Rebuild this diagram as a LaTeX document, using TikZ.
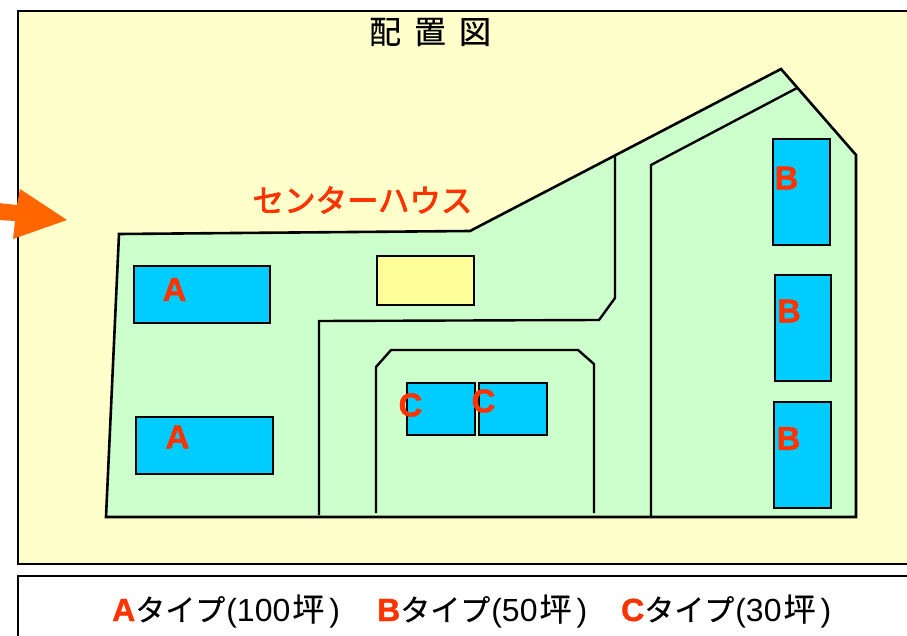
\documentclass[tikz,border=0pt]{standalone}
\usepackage{fontspec}
\setmainfont{Liberation Sans}
\newfontfamily\cjk{Noto Sans CJK JP}
\newfontfamily\cjkt{Noto Sans CJK JP}[FakeBold=0.4]
\newfontfamily\cjkm{Noto Sans CJK JP}[FakeBold=2.6]
\newfontfamily\tagface{Liberation Sans Bold}[FakeBold=1.2]
\definecolor{bgy}{HTML}{FFFFCC}
\definecolor{site}{HTML}{CCFFCC}
\definecolor{bldg}{HTML}{00CCFF}
\definecolor{house}{HTML}{FFFF99}
\definecolor{lab}{HTML}{FF3300}
\definecolor{arr}{HTML}{FF6600}
\newcommand{\legendrow}[2]{\textcolor{lab}{\tagface #1}{\fontsize{30}{32}\selectfont\cjkt タイプ}\kern1pt(#2\kern2pt{\fontsize{32}{34}\selectfont\cjkt 坪}\kern5pt)}
\tikzset{
  x=1pt,y=-1pt,
  line/.style={draw=black,line width=2.6pt,line join=miter},
  road/.style={draw=black,line width=2.4pt,line join=miter},
  bld/.style={draw=black,line width=2.6pt,fill=bldg},
  tag/.style={text=lab,font=\fontsize{33}{35}\selectfont\tagface,inner sep=0pt},
  legend/.style={font=\fontsize{32}{34}\selectfont,inner sep=0pt,anchor=base west}
}
\begin{document}
\begin{tikzpicture}
\useasboundingbox (0,0) rectangle (907,636);
\clip (0,0) rectangle (907,636);
% background panels
\draw[line,fill=bgy] (18,11) rectangle (920,564);
\draw[line,fill=white] (18,576) rectangle (920,650);
% site
\draw[line,fill=site] (119,234) -- (470,231) -- (781,69) -- (856,155) -- (856,517) -- (106,517) -- cycle;
% roads
\draw[road] (615,155) -- (615,298) -- (599,320) -- (319,321) -- (319,515);
\draw[road] (797,88) -- (651,165) -- (651,517);
\draw[road] (376,513) -- (376,367) -- (391,350) -- (578,350) -- (594,364) -- (594,513);
% buildings
\draw[bld] (134,266) rectangle (270,323);
\draw[bld] (136,417) rectangle (273,474);
\draw[line,fill=house] (377,256) rectangle (474,305);
\draw[bld] (407,383) rectangle (475,435);
\draw[bld] (479,383) rectangle (547,435);
\draw[bld] (773,139) rectangle (830,245);
\draw[bld] (775,275) rectangle (831,381);
\draw[bld] (774,402) rectangle (831,508);
% arrow
\fill[arr] (-2,203) -- (17,205) -- (20,189) -- (67,220) -- (13,239) -- (15,221) -- (-2,220) -- cycle;
% labels
\node[tag] (a1) at (174.5,289.5) {A};
\node[tag] (a2) at (177.5,437) {A};
\node[tag] (b1) at (786.5,178) {B};
\node[tag] (b2) at (789,311) {B};
\node[tag] (b3) at (788.5,438.5) {B};
\node[tag] (c1) at (410.5,405) {C};
\node[tag] (c2) at (483.5,401) {C};
\node[inner sep=0pt,text=lab,font=\fontsize{31.5}{34}\selectfont\cjkm] (ch) at (362.5,200) {センターハウス};
\node[inner sep=0pt,font=\fontsize{32}{34}\selectfont\cjkt] (title) at (430,32) {配\hspace{13pt}置\hspace{13pt}図};
\node[legend] (l1) at (112,621) {\legendrow{A}{100}};
\node[legend] (l2) at (377,621) {\legendrow{B}{50}};
\node[legend] (l3) at (621,621) {\legendrow{C}{30}};
\end{tikzpicture}
\end{document}
